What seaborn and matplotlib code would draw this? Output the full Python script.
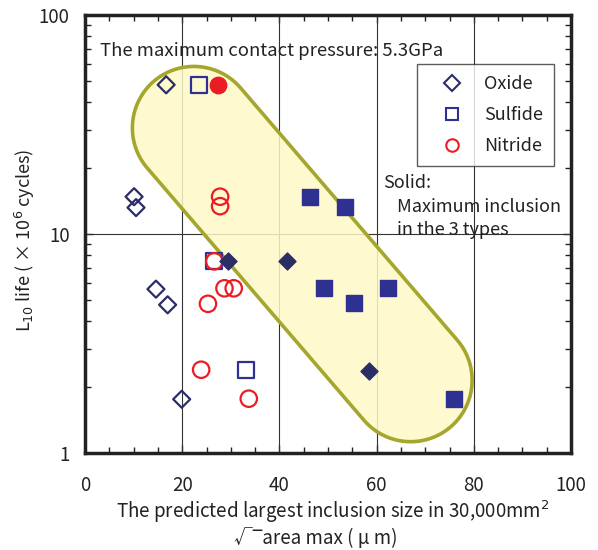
import numpy as np
import pandas as pd
import matplotlib
matplotlib.use("Agg")
import matplotlib.pyplot as plt
import seaborn as sns
from matplotlib.patches import Polygon
from matplotlib.lines import Line2D
from matplotlib.ticker import MultipleLocator, LogLocator, NullFormatter, FixedLocator

# data
oxide_open_x = [16.7, 10.1, 10.5, 14.6, 17.0, 19.9]
oxide_open_y = [48, 14.8, 13.2, 5.6, 4.75, 1.76]
oxide_solid_x = [29.4, 41.6, 58.4]
oxide_solid_y = [7.5, 7.5, 2.37]
sulfide_open_x = [23.5, 26.6, 33.1]
sulfide_open_y = [48, 7.5, 2.4]
sulfide_solid_x = [46.3, 53.6, 49.1, 55.4, 62.4, 76.0]
sulfide_solid_y = [14.8, 13.3, 5.65, 4.82, 5.65, 1.77]
nitride_open_x = [27.8, 27.8, 26.6, 28.7, 30.6, 25.3, 23.9, 33.7]
nitride_open_y = [14.8, 13.4, 7.5, 5.65, 5.65, 4.8, 2.4, 1.77]
nitride_solid_x = [27.4]
nitride_solid_y = [48]

types = ["Oxide", "Sulfide", "Nitride"]
colors = {"Oxide": "#2b2d66", "Sulfide": "#2e3192", "Nitride": "#ec1c24"}
markers = {"Oxide": "D", "Sulfide": "s", "Nitride": "o"}
sizes = {"Oxide": 75, "Sulfide": 130, "Nitride": 140}

solid_note = ["Solid:", "Maximum inclusion", "in the 3 types"]

# highlight band: cap centres (data) and radius (px)
band_centres_x = [22.4, 67.0]
band_centres_y = [30.5, 2.15]
band_radius_px = 61.5

rows = []
for t, xs, ys, solid in [
    ("Oxide", oxide_open_x, oxide_open_y, False),
    ("Oxide", oxide_solid_x, oxide_solid_y, True),
    ("Sulfide", sulfide_open_x, sulfide_open_y, False),
    ("Sulfide", sulfide_solid_x, sulfide_solid_y, True),
    ("Nitride", nitride_open_x, nitride_open_y, False),
    ("Nitride", nitride_solid_x, nitride_solid_y, True),
]:
    for x, y in zip(xs, ys):
        rows.append({"size": x, "life": y, "type": t, "solid": solid})
df = pd.DataFrame(rows)

sns.set_style("ticks")
plt.rcParams['font.family'] = ['Noto Sans CJK JP', 'DejaVu Sans']
txt = "#222222"

fig = plt.figure(figsize=(5.98, 5.5), dpi=100)
ax = fig.add_axes([85 / 598, 97 / 550, 486 / 598, 438 / 550])
ax.set_xlim(0, 100)
ax.set_yscale("log")
ax.set_ylim(1, 100)

# grid lines
for gx in [20, 40, 60, 80]:
    ax.axvline(gx, color="#333333", lw=0.8, zorder=1)
ax.axhline(10, color="#333333", lw=0.8, zorder=1)

# capsule highlight drawn in display space
c = ax.transData.transform(np.column_stack([band_centres_x, band_centres_y]))
r = band_radius_px * fig.dpi / 100
d = c[1] - c[0]
ang = np.arctan2(d[1], d[0])
a1 = np.linspace(ang + np.pi / 2, ang + 3 * np.pi / 2, 60)
a2 = np.linspace(ang - np.pi / 2, ang + np.pi / 2, 60)
pts = np.vstack([
    np.column_stack([c[0][0] + r * np.cos(a1), c[0][1] + r * np.sin(a1)]),
    np.column_stack([c[1][0] + r * np.cos(a2), c[1][1] + r * np.sin(a2)]),
])
pts_ax = ax.transAxes.inverted().transform(pts)
ax.add_patch(Polygon(pts_ax, closed=True, transform=ax.transAxes,
                     facecolor="#fff8c8", alpha=0.85, edgecolor="none", zorder=2))
ax.add_patch(Polygon(pts_ax, closed=True, transform=ax.transAxes,
                     facecolor="none", edgecolor="#a5a62e", lw=2.6, zorder=3))

for t in types:
    sub = df[df["type"] == t]
    op = sub[~sub["solid"]]
    so = sub[sub["solid"]]
    sns.scatterplot(data=op, x="size", y="life", ax=ax, marker=markers[t],
                    s=sizes[t], facecolor="none", edgecolor=colors[t],
                    linewidth=1.6, zorder=4, legend=False)
    sns.scatterplot(data=so, x="size", y="life", ax=ax, marker=markers[t],
                    s=sizes[t], color=colors[t], edgecolor=colors[t],
                    linewidth=1.0, zorder=5, legend=False)

# axes styling
for sp in ax.spines.values():
    sp.set_linewidth(2.5)
    sp.set_color("#222222")
    sp.set_visible(True)
ax.xaxis.set_major_locator(MultipleLocator(20))
ax.xaxis.set_minor_locator(MultipleLocator(5))
ax.yaxis.set_major_locator(FixedLocator([1, 10, 100]))
ax.yaxis.set_minor_locator(LogLocator(base=10, subs=np.arange(2, 10)))
ax.yaxis.set_minor_formatter(NullFormatter())
ax.set_yticklabels(["1", "10", "100"])
ax.tick_params(which="both", direction="in", top=True, right=True, color="#222222")
ax.tick_params(which="major", length=6, width=1.0)
ax.tick_params(which="minor", length=4, width=1.0)
ax.tick_params(axis="x", which="major", labelsize=13.5, pad=16, labelcolor=txt)
ax.tick_params(axis="y", which="major", labelsize=13.5, pad=11, labelcolor=txt)
ax.set_xlabel("")
ax.set_ylabel("")

# axis titles placed directly
fig.text(333 / 598, 1 - 512 / 550, "The predicted largest inclusion size in 30,000mm$^2$",
         fontsize=13.5, ha="center", va="center", color=txt)
fig.text(316 / 598, 1 - 539 / 550, "√‾area max ( μ m)",
         fontsize=13.5, ha="center", va="center", color=txt)
fig.text(25 / 598, 1 - 240 / 550, "L$_{10}$ life ( × 10$^6$ cycles)",
         fontsize=13, ha="center", va="center", rotation=90, color=txt)

ax.text(15 / 486, (453 - 51) / 438, "The maximum contact pressure: 5.3GPa",
        transform=ax.transAxes, fontsize=13.3, va="center", ha="left", color=txt)
for i, line in enumerate(solid_note):
    x0 = 383 if i == 0 else 397
    y0 = 183 + 23.5 * i
    ax.text((x0 - 85) / 486, (453 - y0) / 438, line, transform=ax.transAxes,
            fontsize=13, va="center", ha="left", color=txt)

handles = [Line2D([], [], ls="none", marker=markers[t], markerfacecolor="none",
                  markeredgecolor=colors[t], markeredgewidth=1.5,
                  markersize=9 if t != "Oxide" else 8) for t in types]
leg = ax.legend(handles, types, loc="upper right",
                bbox_to_anchor=((554 - 85) / 486, (453 - 64) / 438),
                fontsize=13, frameon=True, fancybox=False, edgecolor="#333333",
                handlelength=2.6, handletextpad=0.5, labelspacing=0.72,
                borderpad=0.6, borderaxespad=0)
leg.get_frame().set_linewidth(1.0)
leg.set_zorder(6)
for tx in leg.get_texts():
    tx.set_color(txt)

fig.savefig("out.png", dpi=100)
